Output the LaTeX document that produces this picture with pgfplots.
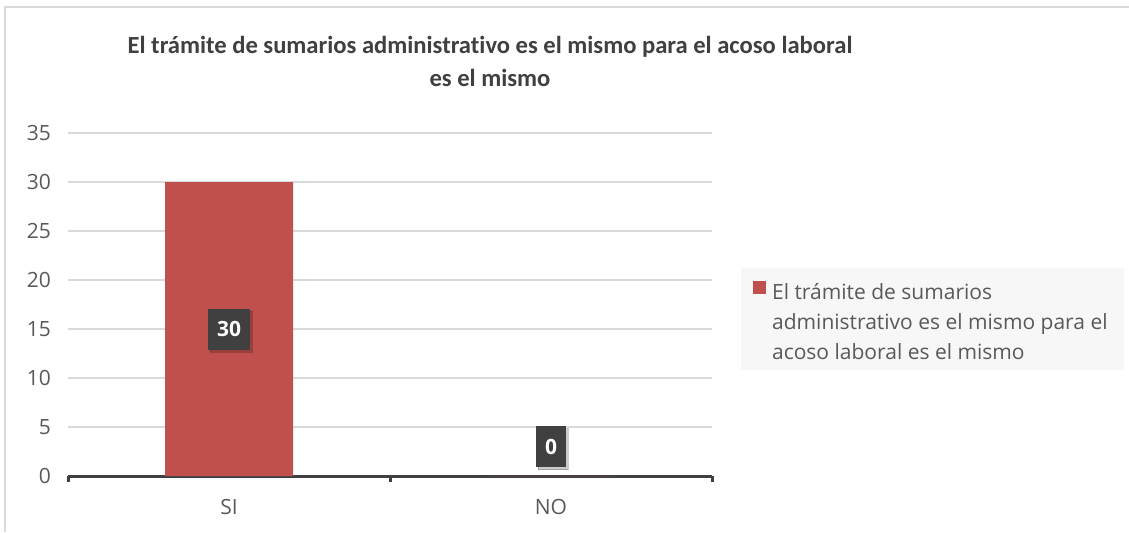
\documentclass[border=0pt]{standalone}
\usepackage{fontspec}
\setmainfont{Open Sans}
\newfontfamily\titlefont[Ligatures=NoCommon]{Carlito}
\usepackage{pgfplots}
\pgfplotsset{compat=1.18}
\usetikzlibrary{shadows}
\definecolor{barred}{HTML}{C0504D}
\definecolor{txt}{HTML}{595959}
\definecolor{lab}{HTML}{404040}
\definecolor{legbg}{HTML}{F7F7F7}
\definecolor{gridc}{HTML}{D9D9D9}
\begin{document}
\begin{tikzpicture}[x=0.5pt,y=0.5pt]
\useasboundingbox (0,0) rectangle (1129,532);
\fill[white] (0,0) rectangle (1129,532);
\draw[color=gridc, line width=1pt] (5,0) -- (5,525) -- (1129,525);
\node[font=\titlefont\fontsize{12.3}{16.5}\selectfont\bfseries, text=lab, align=center] at (490,470.5)
  {El trámite de sumarios administrativo es el mismo para el acoso laboral\\es el mismo};
\fill[legbg] (741,162) rectangle (1124,264);
\begin{axis}[
  at={(34pt,28pt)}, anchor=south west,
  scale only axis, width=322pt, height=171.5pt,
  xmin=-0.5, xmax=1.5, ymin=0, ymax=35,
  ytick={0,5,...,35},
  xtick={0,1}, xticklabels={SI,NO},
  axis x line*=bottom, axis y line*=left,
  y axis line style={draw=none},
  x axis line style={lab, line width=1.5pt, -},
  major tick length=0pt,
  extra x ticks={-0.5,0.5,1.5},
  extra x tick labels={},
  extra x tick style={major tick length=3pt, tick align=outside, tick style={lab, line width=1.5pt}},
  ymajorgrids, grid style={gridc, line width=0.6pt},
  yticklabel style={text=txt, font=\fontsize{10.5}{11}\selectfont, xshift=-5pt},
  xticklabel style={text=txt, font=\fontsize{10.5}{11}\selectfont, yshift=-8pt},
  /pgf/number format/assume math mode=true,
  legend style={at={(1.057,0.585)}, anchor=north west, draw=none, fill=none,
    font=\fontsize{10.5}{15}\selectfont, text=txt, inner sep=2pt},
  legend cell align=left,
  legend image code/.code={\fill[barred] (0pt,-0.5pt) rectangle (6.5pt,6pt);},
]
\addplot[ybar, fill=barred, draw=none, bar width=64pt] coordinates {(0,30) (1,0)};
\addlegendentry{\hspace{1pt}\parbox[t]{178pt}{\baselineskip=15pt El trámite de sumarios\\administrativo es el mismo para el\\acoso laboral es el mismo}}
\addplot[only marks, mark=none, forget plot, nodes near coords, point meta=explicit symbolic,
  nodes near coords style={anchor=center, fill=lab, text=white, font=\fontsize{10.5}{12}\selectfont\bfseries,
    inner xsep=4.5pt, minimum height=20.5pt, drop shadow={opacity=0.2, fill=black, shadow xshift=1.2pt, shadow yshift=-1.2pt}}]
  coordinates {(0,15) [30] (1,3) [0]};
\end{axis}
\end{tikzpicture}
\end{document}
